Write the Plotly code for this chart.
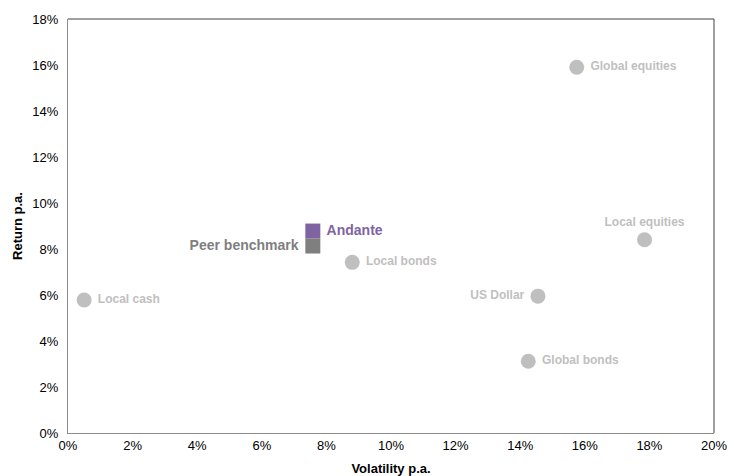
import plotly.graph_objects as go

assets = ["Local cash", "Local bonds", "Global equities", "Local equities", "US Dollar", "Global bonds"]
asset_vol = [0.50, 8.80, 15.75, 17.85, 14.55, 14.25]
asset_ret = [5.78, 7.42, 15.90, 8.40, 5.95, 3.12]
asset_pos = ["middle right", "middle right", "middle right", "top center", "middle left", "middle right"]

funds = ["Andante", "Peer benchmark"]
fund_vol = [7.58, 7.58]
fund_ret = [8.78, 8.13]
fund_colors = ["#8064A2", "#7F7F7F"]
fund_pos = ["middle right", "middle left"]

x_ticks = list(range(0, 21, 2))
y_ticks = list(range(0, 19, 2))

fig = go.Figure()

fig.add_trace(go.Scatter(
    x=asset_vol, y=asset_ret, mode="markers+text", text=[" " + a + " " for a in assets],
    textposition=asset_pos,
    marker=dict(size=15, color="#BFBFBF", line=dict(width=0)),
    textfont=dict(family="Liberation Sans, Arial", size=12, color="#BFBFBF", weight="bold"),
    hoverinfo="skip", showlegend=False, cliponaxis=False,
))

fig.add_trace(go.Scatter(
    x=fund_vol, y=fund_ret, mode="markers+text", text=[" " + f + " " for f in funds],
    textposition=fund_pos,
    marker=dict(size=15, symbol="square", color=fund_colors, line=dict(width=0)),
    textfont=dict(family="Liberation Sans, Arial", size=14, color=fund_colors, weight="bold"),
    hoverinfo="skip", showlegend=False, cliponaxis=False,
))

axis_common = dict(
    showgrid=False, zeroline=False, showline=True, linecolor="#8C8C8C", linewidth=1,
    ticks="", automargin=False,
    tickfont=dict(family="Liberation Sans, Arial", size=13, color="#000000"),
)

fig.update_xaxes(
    range=[0, 20], tickvals=x_ticks, ticktext=[f"{v}%" for v in x_ticks],
    title=dict(text="<b>Volatility p.a.</b>", standoff=12,
               font=dict(family="Liberation Sans, Arial", size=13, color="#000000")),
    **axis_common,
)
fig.update_yaxes(
    range=[0, 18], tickvals=y_ticks, ticktext=[f"{v}%" for v in y_ticks],
    title=dict(text="<b>Return p.a.</b>", standoff=6,
               font=dict(family="Liberation Sans, Arial", size=13, color="#000000")),
    ticklabelstandoff=6,
    **axis_common,
)

# top and right frame lines
fig.add_shape(type="line", xref="paper", yref="paper", x0=0, x1=1, y0=1, y1=1,
              line=dict(color="#404040", width=1))
fig.add_shape(type="line", xref="paper", yref="paper", x0=1, x1=1, y0=0, y1=1,
              line=dict(color="#404040", width=1))

fig.update_layout(
    width=729, height=476,
    margin=dict(l=68, r=15, t=19, b=43),
    paper_bgcolor="white", plot_bgcolor="white",
    font=dict(family="Liberation Sans, Arial"),
)

fig.write_html("out.html")
